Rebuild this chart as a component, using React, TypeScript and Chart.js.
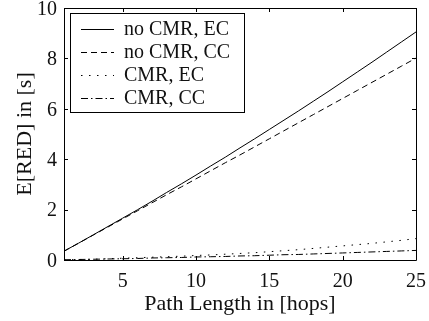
import React, { useEffect, useRef } from "react";
import { Chart, registerables } from "chart.js";

Chart.register(...registerables);

const hops = [1, 2, 3, 4, 5, 6, 7, 8, 9, 10, 11, 12, 13, 14, 15, 16, 17, 18, 19, 20, 21, 22, 23, 24, 25];
const noCmrEc = [0.35, 0.67, 1.0, 1.33, 1.66, 1.99, 2.33, 2.68, 3.02, 3.37, 3.73, 4.08, 4.45, 4.81, 5.18, 5.55, 5.92, 6.3, 6.68, 7.07, 7.46, 7.85, 8.25, 8.65, 9.05];
const noCmrCc = [0.35, 0.67, 0.99, 1.31, 1.63, 1.95, 2.27, 2.59, 2.9, 3.22, 3.54, 3.86, 4.17, 4.49, 4.81, 5.13, 5.45, 5.77, 6.09, 6.41, 6.73, 7.05, 7.37, 7.69, 8.01];
const cmrEc = [0.01, 0.02, 0.03, 0.05, 0.07, 0.09, 0.11, 0.13, 0.15, 0.18, 0.2, 0.23, 0.26, 0.29, 0.33, 0.37, 0.41, 0.46, 0.51, 0.56, 0.61, 0.66, 0.72, 0.78, 0.85];
const cmrCc = [0.01, 0.02, 0.03, 0.04, 0.05, 0.06, 0.08, 0.09, 0.1, 0.12, 0.13, 0.14, 0.16, 0.17, 0.19, 0.21, 0.22, 0.24, 0.26, 0.28, 0.3, 0.32, 0.34, 0.36, 0.38];
const seriesLabels = ["no CMR, EC", "no CMR, CC", "CMR, EC", "CMR, CC"];
const xTicks = [5, 10, 15, 20, 25];
const yTicks = [0, 2, 4, 6, 8, 10];
const xTitle = "Path Length in [hops]";
const yTitle = "E[RED] in [s]";

const FONT = "'Liberation Serif', 'Times New Roman', 'DejaVu Serif', serif";
const dashes = [[], [6, 4], [1.5, 6.5], [7, 3, 1.5, 3]];

const framePlugin = {
  id: "frame",
  afterDraw(chart: any) {
    const { ctx, chartArea } = chart;
    const { left, right, top, bottom } = chartArea;
    const xs = chart.scales.x;
    const ys = chart.scales.y;
    ctx.save();
    ctx.strokeStyle = "#000";
    ctx.lineWidth = 1;
    ctx.setLineDash([]);
    ctx.beginPath();
    ctx.rect(Math.round(left) + 0.5, Math.round(top) + 0.5, Math.round(right - left), Math.round(bottom - top));
    ctx.stroke();
    const tl = 4;
    ctx.beginPath();
    for (const v of xTicks) {
      const px = Math.round(xs.getPixelForValue(v)) + 0.5;
      ctx.moveTo(px, bottom);
      ctx.lineTo(px, bottom - tl);
      ctx.moveTo(px, top);
      ctx.lineTo(px, top + tl);
    }
    for (const v of yTicks) {
      const py = Math.round(ys.getPixelForValue(v)) + 0.5;
      ctx.moveTo(left, py);
      ctx.lineTo(left + tl, py);
      ctx.moveTo(right, py);
      ctx.lineTo(right - tl, py);
    }
    ctx.stroke();

    // legend
    const bx = 70.5, by = 13.5, bw = 174, bh = 99;
    ctx.fillStyle = "#fff";
    ctx.fillRect(bx, by, bw, bh);
    ctx.strokeRect(bx, by, bw, bh);
    const rows = [29, 52, 75, 98];
    ctx.font = "20px " + FONT;
    ctx.textBaseline = "middle";
    ctx.textAlign = "left";
    chart.data.datasets.forEach((ds: any, i: number) => {
      const y = rows[i] + 0.5;
      ctx.beginPath();
      ctx.setLineDash(ds.borderDash || []);
      ctx.moveTo(81, y);
      ctx.lineTo(114, y);
      ctx.stroke();
      ctx.setLineDash([]);
      ctx.fillStyle = "#111";
      ctx.fillText(ds.label, 124, rows[i] + 1);
    });
    ctx.restore();
  },
};

export default function App() {
  const ref = useRef<HTMLCanvasElement>(null);
  useEffect(() => {
    if (!ref.current) return;
    const series = [noCmrEc, noCmrCc, cmrEc, cmrCc];
    const chart = new Chart(ref.current, {
      type: "line",
      data: {
        labels: hops,
        datasets: series.map((vals, i) => ({
          label: seriesLabels[i],
          data: vals.map((v, j) => ({ x: hops[j], y: v })),
          borderColor: "#000",
          borderWidth: 1,
          borderDash: dashes[i],
          pointRadius: 0,
          fill: false,
          tension: 0,
        })),
      },
      options: {
        animation: false,
        responsive: false,
        maintainAspectRatio: false,
        layout: { padding: { top: 8, right: 13, left: 0, bottom: 0 } },
        plugins: { legend: { display: false }, tooltip: { enabled: false } },
        scales: {
          x: {
            type: "linear",
            min: 1,
            max: 25,
            grid: { display: false, drawTicks: false },
            border: { display: false },
            afterBuildTicks: (s: any) => {
              s.ticks = xTicks.map((v) => ({ value: v }));
            },
            afterFit: (s: any) => {
              s.height = 61;
              s.paddingLeft = 0;
              s.paddingRight = 0;
              s.paddingTop = 0;
              s.paddingBottom = 0;
            },
            ticks: { color: "#111", font: { family: FONT, size: 20 }, padding: 10, maxRotation: 0, autoSkip: false },
            title: { display: true, text: xTitle, color: "#111", font: { family: FONT, size: 22 }, padding: { top: 0, bottom: 4 } },
          },
          y: {
            type: "linear",
            min: 0,
            max: 10,
            grid: { display: false, drawTicks: false },
            border: { display: false },
            afterBuildTicks: (s: any) => {
              s.ticks = yTicks.map((v) => ({ value: v }));
            },
            afterFit: (s: any) => {
              s.width = 64;
              s.paddingLeft = 0;
              s.paddingRight = 0;
              s.paddingTop = 0;
              s.paddingBottom = 0;
            },
            ticks: { color: "#111", font: { family: FONT, size: 20 }, padding: 7, labelOffset: 1.5 },
            title: { display: true, text: yTitle, color: "#111", font: { family: FONT, size: 22 }, padding: { top: 12, bottom: 0 } },
          },
        },
      },
      plugins: [framePlugin],
    });
    const fonts: any = (document as any).fonts;
    if (fonts && fonts.load) {
      fonts.load("20px 'Liberation Serif'").then(() => chart.update()).catch(() => {});
    }
    return () => chart.destroy();
  }, []);
  return (
    <div style={{ position: "fixed", left: 0, top: 0, width: 429, height: 321, background: "#fff" }}>
      <canvas ref={ref} width={429} height={321} style={{ display: "block" }} />
    </div>
  );
}
